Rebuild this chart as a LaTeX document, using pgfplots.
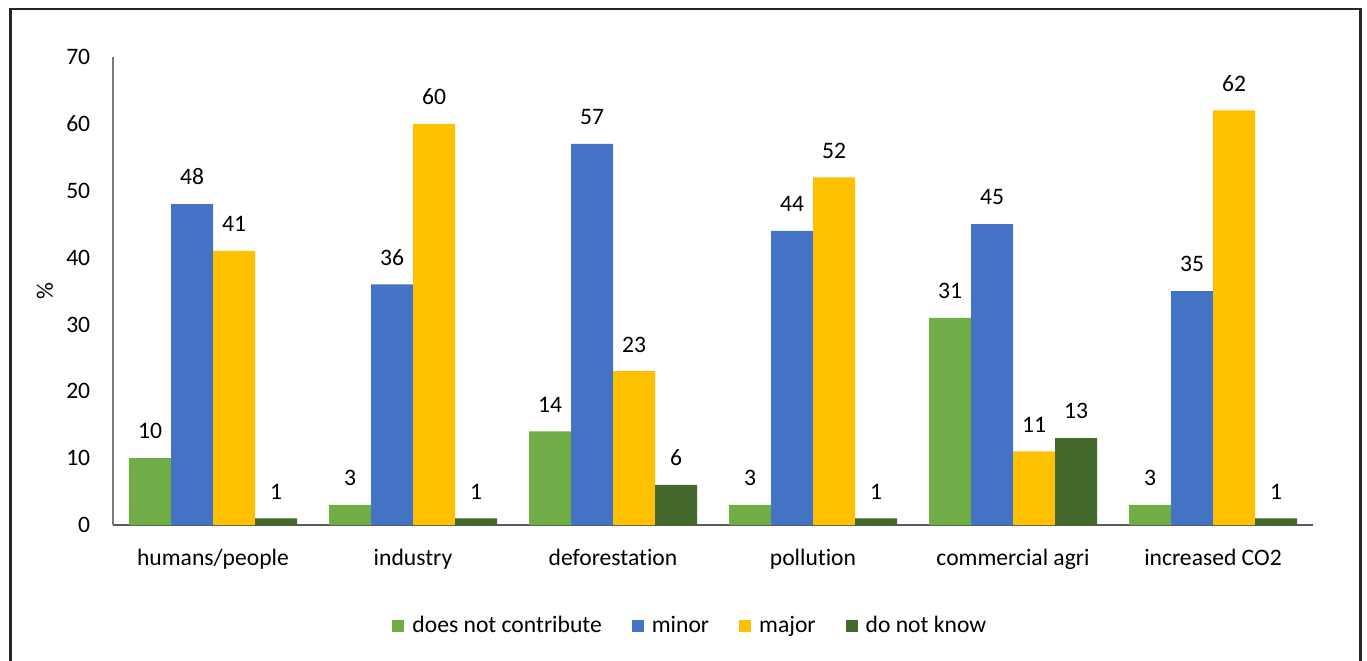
\documentclass[border=0pt]{standalone}
\usepackage{pgfplots}
\pgfplotsset{compat=1.18}
\usepackage{fontspec}
\setmainfont{Carlito}[Ligatures=NoCommon]
\definecolor{cgreen}{HTML}{70AD47}
\definecolor{cblue}{HTML}{4472C4}
\definecolor{cyellow}{HTML}{FFC000}
\definecolor{cdark}{HTML}{43682B}
\definecolor{axisgray}{HTML}{595959}
\begin{document}
\fontsize{11.8}{14.2}\selectfont
\begin{tikzpicture}
\useasboundingbox (0,0) rectangle (683.5pt,330pt);
\begin{axis}[
  at={(56.5pt,67.5pt)}, anchor=south west,
  scale only axis, width=600pt, height=234pt,
  xmin=-0.5, xmax=5.5, ymin=0, ymax=70,
  xtick={0,1,2,3,4,5},
  xticklabels={humans/people, industry, deforestation, pollution, commercial agri, increased CO2},
  ytick={0,10,...,70},
  major tick length=0pt,
  axis x line=bottom, axis y line=left,
  x axis line style={-, color=axisgray, line width=1pt},
  y axis line style={-, color=axisgray!80, line width=0.7pt},
  /pgf/number format/assume math mode=true,
  xticklabel style={inner sep=0pt, anchor=north, yshift=-12pt},
  yticklabel style={inner sep=0pt, anchor=east, xshift=-11.2pt},
  ylabel={\%},
  ylabel style={at={(axis description cs:-0.0567,0.5)}, anchor=center},
  ybar=0pt, bar width=21pt,
  nodes near coords,
  nodes near coords style={anchor=south, inner sep=0pt, yshift=9.3pt, color=black},
  legend style={at={(axis description cs:0.482,-0.216)}, anchor=center, draw=none,
    /tikz/every odd column/.append style={column sep=2pt},
    /tikz/every even column/.append style={column sep=13pt}},
  legend columns=-1,
  legend image code/.code={\draw[#1, draw=none] (0pt,-3pt) rectangle (6pt,3pt);},
]
\addplot[fill=cgreen, draw=none] coordinates {(0,10) (1,3) (2,14) (3,3) (4,31) (5,3)};
\addplot[fill=cblue, draw=none] coordinates {(0,48) (1,36) (2,57) (3,44) (4,45) (5,35)};
\addplot[fill=cyellow, draw=none] coordinates {(0,41) (1,60) (2,23) (3,52) (4,11) (5,62)};
\addplot[fill=cdark, draw=none] coordinates {(0,1) (1,1) (2,6) (3,1) (4,13) (5,1)};
\legend{does not contribute, minor, major, do not know}
\end{axis}
\draw[line width=1.3pt, color=black!85] (5.25pt,-5pt) rectangle (680.3pt,325.5pt);
\end{tikzpicture}
\end{document}
